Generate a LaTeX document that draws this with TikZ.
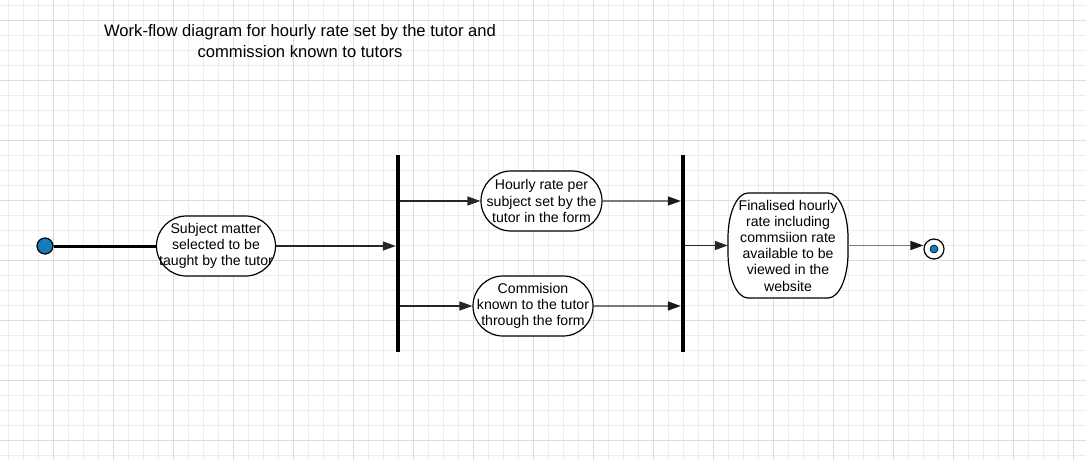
\documentclass[tikz,border=0pt]{standalone}
\usepackage{fontspec}
\setmainfont{Liberation Sans}
\usetikzlibrary{arrows.meta,calc}
\definecolor{gridminor}{RGB}{236,236,236}
\definecolor{gridmajor}{RGB}{220,220,220}
\definecolor{dotblue}{RGB}{22,122,190}
\definecolor{flowgray}{RGB}{120,120,120}
\tikzset{
  nodefont/.style={font=\fontsize{14.1}{16.2}\selectfont},
  activity/.style={draw=black, line width=1.2pt, fill=white, align=center, nodefont, inner sep=0pt},
  outline/.style={draw=black, line width=1.2pt, fill=white},
  forkbar/.style={fill=black, inner sep=0pt, minimum width=4pt, minimum height=197pt},
  flow/.style={-{Triangle[length=13pt,width=9pt]}, line width=1.4pt, draw=black!85},
  flowlight/.style={-{Triangle[length=13pt,width=9pt,color=black!90]}, line width=1.3pt, draw=flowgray},
}
\begin{document}
\begin{tikzpicture}[x=1pt, y=-1pt]
\useasboundingbox (0,0) rectangle (1086,460);
% background grid
\fill[white] (0,0) rectangle (1086,460);
\foreach \gx in {8.3,23.3,...,1086} \draw[gridminor, line width=1pt] (\gx,0) -- (\gx,460);
\foreach \gy in {5.7,20.7,...,460} \draw[gridminor, line width=1pt] (0,\gy) -- (1086,\gy);
\foreach \gx in {53.3,113.3,...,1086} \draw[gridmajor, line width=1pt] (\gx,0) -- (\gx,460);
\foreach \gy in {20.7,80.7,...,460} \draw[gridmajor, line width=1pt] (0,\gy) -- (1086,\gy);

% title
\node[align=center, font=\fontsize{16.6}{21}\selectfont] (title) at (300,41.5)
  {Work-flow diagram for hourly rate set by the tutor and\\commission known to tutors};

% initial and final states
\node[circle, draw=black, line width=1.2pt, fill=dotblue, minimum size=16pt, inner sep=0pt] (start) at (45,246) {};
\node[circle, draw=black, line width=1.2pt, fill=white, minimum size=20pt, inner sep=0pt] (stop) at (934,249) {};
\node[circle, fill=dotblue, draw=black, line width=0.6pt, minimum size=8pt, inner sep=0pt] (stopdot) at (stop) {};

% activities
\node[activity, minimum width=119pt, minimum height=60pt, rounded corners=30pt] (subj) at (216,246)
  {Subject matter\\selected to be\\taught by the tutor};
\node[activity, minimum width=121pt, minimum height=60pt, rounded corners=30pt] (rate) at (541.5,201)
  {Hourly rate per\\subject set by the\\tutor in the form};
\node[activity, minimum width=120pt, minimum height=60pt, rounded corners=30pt] (comm) at (533,306)
  {Commision\\known to the tutor\\through the form};

% tall activity with elliptical corners
\coordinate (fnw) at (728,193);
\coordinate (fne) at (848,193);
\coordinate (fse) at (848,298);
\coordinate (fsw) at (728,298);
\path[outline]
  ($(fnw)+(20,0)$) -- ($(fne)+(-20,0)$)
  .. controls ($(fne)+(-9,0)$) and ($(fne)+(0,20)$) .. ($(fne)+(0,45)$)
  -- ($(fse)+(0,-45)$)
  .. controls ($(fse)+(0,-20)$) and ($(fse)+(-9,0)$) .. ($(fse)+(-20,0)$)
  -- ($(fsw)+(20,0)$)
  .. controls ($(fsw)+(9,0)$) and ($(fsw)+(0,-20)$) .. ($(fsw)+(0,-45)$)
  -- ($(fnw)+(0,45)$)
  .. controls ($(fnw)+(0,20)$) and ($(fnw)+(9,0)$) .. cycle;
\node[align=center, nodefont, inner sep=0pt, minimum width=120pt, minimum height=105pt] (final) at (788,245.5)
  {Finalised hourly\\rate including\\commsiion rate\\available to be\\viewed in the\\website};

% fork and join bars
\node[forkbar] (fork) at (398,253.5) {};
\node[forkbar] (join) at (683,253.5) {};

% connectors
\draw[line width=3pt] (start.east) -- (subj.west);
\draw[flow] (subj.east) -- (subj.east -| fork.west);
\draw[flow] (fork.east |- rate.west) -- (rate.west);
\draw[flow] (fork.east |- comm.west) -- (comm.west);
\draw[flowlight] (rate.east) -- (rate.east -| join.west);
\draw[flowlight] (comm.east) -- (comm.east -| join.west);
\draw[flow] (join.east |- final.west) -- (final.west);
\draw[flowlight] (final.east) -- (stop.west |- final.east);
\end{tikzpicture}
\end{document}
